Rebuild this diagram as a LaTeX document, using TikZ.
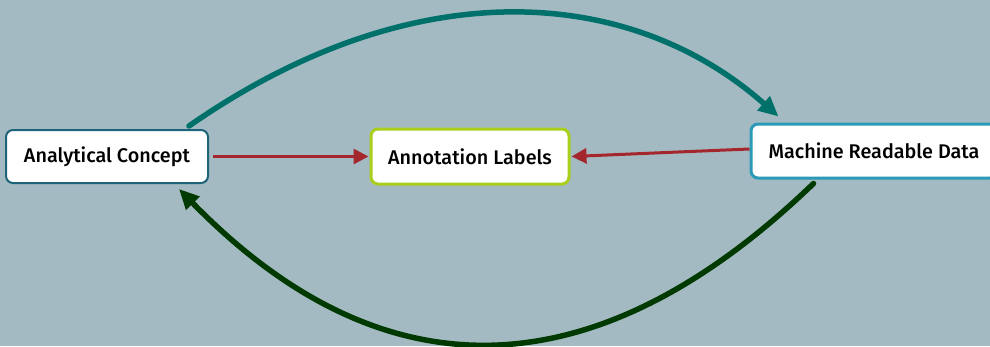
\documentclass[tikz,border=0pt]{standalone}
\usepackage{fontspec}
\setmainfont{Fira Sans}[UprightFont={* Medium}]
\usetikzlibrary{calc,arrows.meta}
\definecolor{bg}{HTML}{A3BAC2}
\definecolor{acborder}{HTML}{1E6479}
\definecolor{alborder}{HTML}{A9CF1C}
\definecolor{mrdborder}{HTML}{2B9AB8}
\definecolor{redarr}{HTML}{A3272D}
\definecolor{toparc}{HTML}{00706A}
\definecolor{botarc}{HTML}{003A00}
\tikzset{
  box/.style={draw, fill=white, rounded corners=7pt, inner sep=0pt, font=\fontsize{19.8}{23}\selectfont},
  redline/.style={draw=redarr, line width=3pt, -{Triangle[length=15pt,width=15pt]}},
  arc/.style={line width=5.5pt, line cap=round, -{Triangle[length=20pt,width=18pt]}}
}
\begin{document}
\begin{tikzpicture}[x=1pt,y=-1pt]
\fill[bg] (0,0) rectangle (990,346);
\useasboundingbox (0,0) rectangle (990,346);
\clip (0,0) rectangle (990,346);
\node[box, draw=acborder, line width=2pt, minimum width=202pt, minimum height=53pt] (ac) at (107,156.5) {Analytical Concept};
\node[box, draw=alborder, line width=3pt, minimum width=198pt, minimum height=55pt] (al) at (470,156.5) {Annotation Labels};
\node[box, draw=mrdborder, line width=3pt, minimum width=246pt, minimum height=54pt] (mrd) at (874,151) {Machine Readable Data};
\draw[redline] ([xshift=4pt]ac.east) -- ([xshift=-1pt]al.west);
\draw[redline] ([yshift=2pt]mrd.west) -- ([xshift=1pt]al.east);
\draw[arc, draw=toparc] ($(ac.north east)+(-20,-3)$) .. controls (413,-30) and (630,-15) .. ($(mrd.north west)+(29,-6)$);
\draw[arc, draw=botarc] ($(mrd.south west)+(64,4)$) .. controls (594,395) and (382,397) .. ($(ac.south east)+(-30,5)$);
\end{tikzpicture}
\end{document}
